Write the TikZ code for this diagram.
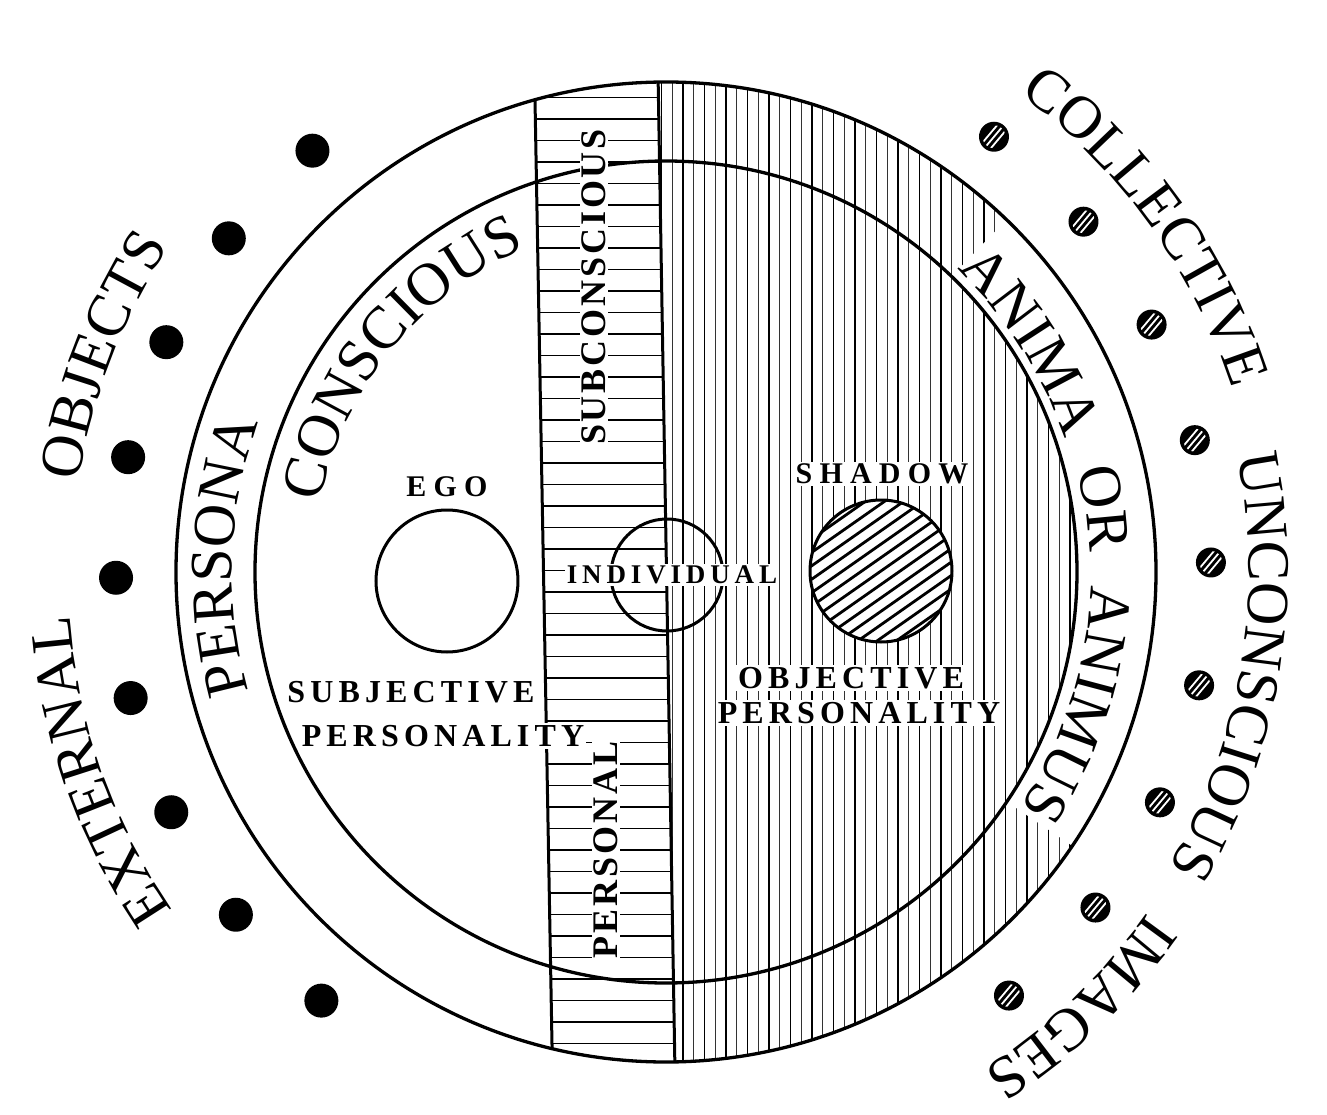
\documentclass[tikz,border=0pt]{standalone}
\usepackage{fontspec}
\setmainfont{Liberation Serif}
\usetikzlibrary{decorations.text, math}
\newcommand\arcfont{\fontsize{60}{60}\selectfont}

\begin{document}
\begin{tikzpicture}[x=1pt, y=1pt,
  ring/.style={line width=3.3pt},
  hatchdark/.style={line width=1.6pt},
  hatchlight/.style={line width=1.1pt, black!80},
  capsmall/.style={fill=white, inner sep=2pt, font={\bfseries\fontsize{30}{30}\selectfont\addfontfeature{LetterSpace=24}}},
  capmid/.style={fill=white, inner sep=2pt, font={\bfseries\fontsize{32}{32}\selectfont\addfontfeature{LetterSpace=16}}},
  capstrip/.style={fill=white, inner sep=1.5pt, rotate=90, font={\bfseries\fontsize{36}{36}\selectfont\addfontfeature{LetterSpace=8}}},
  arcword/.style={decorate, decoration={text along path, text align=center, text={|\arcfont|#1}}}]
\tikzmath{
\Ro=490;
\Ri=411;
\Rc=489.5;
}
\useasboundingbox (-666,-542) rectangle (661,572);

\coordinate (O) at (0,0);
\coordinate (lt) at (-131.5,500);
\coordinate (lb) at (-113.5,-500);
\coordinate (rt) at (-8,500);
\coordinate (rb) at (9,-500);

\begin{scope}
\clip (O) circle (\Ro);
% personal / subconscious strip
\begin{scope}
\clip (lt) -- (rt) -- (rb) -- (lb) -- cycle;
\foreach \k in {-23,...,23}
  \draw[hatchdark] (-140,1.5+21.5*\k) -- (20,1.5+21.5*\k);
\end{scope}
% objective side
\begin{scope}[even odd rule]
\clip (rt) -- (rb) -- (500,-500) -- (500,500) -- cycle;
\clip (O) circle (\Rc)
  (46:\Ri) arc[start angle=46, end angle=-34, radius=\Ri] -- (-34:\Rc) arc[start angle=-34, end angle=46, radius=\Rc] -- cycle;
\foreach \k in {-1,...,22} {
  \draw[hatchdark] (17+21.5*\k,-500) -- (17+21.5*\k,500);
  \draw[hatchlight] (27.75+21.5*\k,-500) -- (27.75+21.5*\k,500);
}
\end{scope}
\draw[line width=3pt] (lt) -- (lb);
\draw[line width=3pt] (rt) -- (rb);
\end{scope}

\draw[ring] (O) circle (\Ro);
\draw[ring] (O) circle (\Ri);

% shadow
\coordinate (S) at (215,1);
\begin{scope}[shift={(S)}, rotate=35]
\clip (0,0) circle (71);
\fill[white] (0,0) circle (71);
\foreach \k in {-7,...,7}
  \draw[line width=2.8pt] (-80,11*\k) -- (80,11*\k);
\end{scope}
\draw[line width=3pt] (S) circle (71);

\coordinate (E) at (-219,-9);
\coordinate (I) at (1,-3);
\draw[line width=3pt] (E) circle (71);
\draw[line width=3pt] (I) circle (56);

\node[capsmall] (ego) at (-219,85) {EGO};
\node[capsmall] (shadow) at (216,98) {SHADOW};
\node[capsmall, font={\bfseries\fontsize{27}{27}\selectfont\addfontfeature{LetterSpace=18}}] (indiv) at (6,-3) {INDIVIDUAL};
\node[capmid] (subj) at (-255,-120) {SUBJECTIVE};
\node[capmid] (subjp) at (-223,-164) {PERSONALITY};
\node[capmid] (obj) at (185,-106) {OBJECTIVE};
\node[capmid] (objp) at (193,-141) {PERSONALITY};
\node[capstrip] (subcon) at (-72,285) {SUBCONSCIOUS};
\node[capstrip] (pers) at (-60,-278) {PERSONAL};

% words on circles, read clockwise
\foreach \w/\m/\r in {CONSCIOUS/141.1/353, PERSONA/177.9/434, EXTERNAL/199.3/598, OBJECTS/159/594,
    ANIMA/32.3/420, OR/8.35/424, ANIMUS/-17.75/425,
    COLLECTIVE/35.75/595, UNCONSCIOUS/-9.45/583, IMAGES/-46.4/590}
  \path[arcword=\w] (\m+30:\r) arc[start angle=\m+30, end angle=\m-30, radius=\r];

% objects and images
\foreach \a in {0,...,8}
  \fill (130+12.65*\a:550) circle (17);
\foreach \a in {0,...,8} {
  \fill (53-13*\a:545) circle (15);
  \begin{scope}[shift={(53-13*\a:545)}, rotate=50]
  \clip (0,0) circle (11.5);
  \foreach \s in {-5,0,5}
    \draw[white, line width=1.8pt] (-15,\s) -- (15,\s);
  \end{scope}
}
\end{tikzpicture}
\end{document}
